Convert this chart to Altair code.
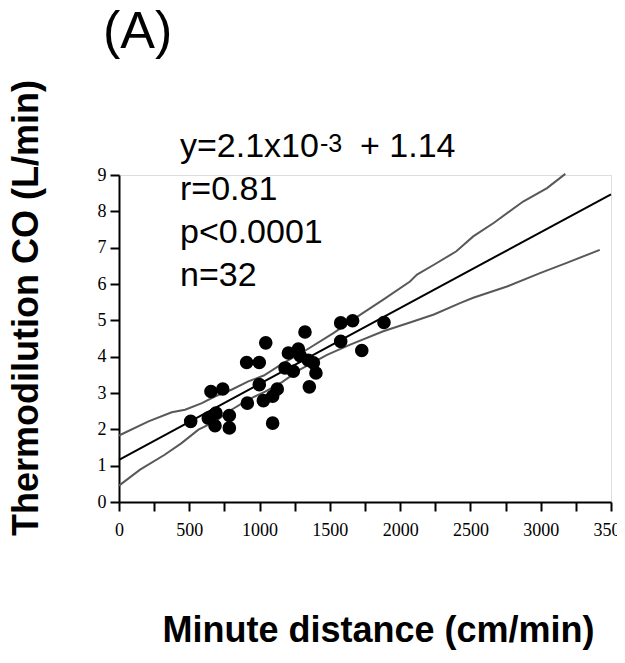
import altair as alt
import pandas as pd

# ---- data ----
distance = [510, 654, 738, 635, 690, 683, 785, 785, 913, 908, 998, 998, 1044, 1027,
            1093, 1126, 1093, 1205, 1181, 1240, 1276, 1288, 1347, 1323, 1383, 1354,
            1401, 1577, 1662, 1577, 1727, 1885]
co = [2.22, 3.04, 3.11, 2.31, 2.45, 2.10, 2.38, 2.04, 2.72, 3.84, 3.84, 3.23, 4.38, 2.79,
      2.91, 3.11, 2.17, 4.10, 3.69, 3.60, 4.21, 4.03, 3.90, 4.68, 3.83, 3.17,
      3.55, 4.93, 4.99, 4.42, 4.17, 4.94]

fit_x = [0, 3500]
fit_y = [1.16, 8.47]

upper_x = [0, 210, 375, 470, 590, 685, 800, 920, 1030, 1160, 1335, 1525, 1715, 1880,
           2070, 2120, 2240, 2400, 2520, 2665, 2875, 3045, 3175]
upper_y = [1.83, 2.22, 2.47, 2.54, 2.72, 2.91, 3.09, 3.32, 3.48, 3.80, 4.19, 4.65, 5.15,
           5.57, 6.07, 6.26, 6.53, 6.90, 7.31, 7.68, 8.27, 8.64, 9.03]
lower_x = [0, 150, 325, 445, 565, 685, 800, 920, 1040, 1160, 1290, 1480, 1645, 1880,
           2070, 2240, 2430, 2520, 2760, 2995, 3185, 3420]
lower_y = [0.45, 0.89, 1.30, 1.62, 1.99, 2.22, 2.54, 2.82, 3.04, 3.30, 3.65, 4.05, 4.33,
           4.70, 4.94, 5.16, 5.48, 5.62, 5.93, 6.30, 6.58, 6.94]

x_ticks = list(range(0, 3501, 250))
y_ticks = list(range(0, 10))

panel_label = "(A)"
eq_main = "y=2.1x10"
eq_sup = "-3"
eq_tail = "+ 1.14"
stats_lines = ["r=0.81", "p<0.0001", "n=32"]
x_title = "Minute distance (cm/min)"
y_title = "Thermodilution CO (L/min)"

W, H = 492, 327
SANS = "Liberation Sans"
SERIF = "Liberation Serif"

pts = pd.DataFrame({"x": distance, "y": co})
fit = pd.DataFrame({"x": fit_x, "y": fit_y})
bands = pd.concat([
    pd.DataFrame({"x": upper_x, "y": upper_y, "band": "upper"}),
    pd.DataFrame({"x": lower_x, "y": lower_y, "band": "lower"}),
])

xscale = alt.Scale(domain=[0, 3500], nice=False, zero=False)
yscale = alt.Scale(domain=[0, 9], nice=False)

xaxis = alt.Axis(values=x_ticks, format="d",
                 labelExpr="datum.value % 500 == 0 ? datum.label : ''",
                 labelFont=SERIF, labelFontSize=18, labelColor="black",
                 labelFlush=False, labelOverlap=False, labelPadding=10,
                 tickSize=9, tickWidth=2, tickColor="black",
                 domainColor="black", domainWidth=2, grid=False, title=None)
yaxis = alt.Axis(values=y_ticks, format="d",
                 labelFont=SERIF, labelFontSize=18, labelColor="black",
                 labelFlush=False, labelOverlap=False, labelPadding=4,
                 tickSize=9, tickWidth=2, tickColor="black",
                 domainColor="black", domainWidth=2, grid=False, title=None)

X = alt.X("x:Q", scale=xscale, axis=xaxis)
Y = alt.Y("y:Q", scale=yscale, axis=yaxis)

band_layer = alt.Chart(bands).mark_line(color="#585858", strokeWidth=2).encode(
    x=X, y=Y, detail="band:N", order="x:Q")
fit_layer = alt.Chart(fit).mark_line(color="black", strokeWidth=2).encode(x=X, y=Y)
pt_layer = alt.Chart(pts).mark_circle(color="black", opacity=1, size=185).encode(x=X, y=Y)

one = pd.DataFrame({"a": [0]})

def txt(s, x, y, size, weight="normal", angle=0, align="left", baseline="alphabetic"):
    return alt.Chart(one).mark_text(
        text=s, font=SANS, fontSize=size, fontWeight=weight, angle=angle,
        align=align, baseline=baseline, color="black"
    ).encode(x=alt.value(x), y=alt.value(y))

texts = [
    txt(panel_label, -16, -127, 52),
    txt(eq_main, 61, -18, 34),
    txt(eq_sup, 201, -23, 25),
    txt(eq_tail, 241, -18, 34),
]
for i, s in enumerate(stats_lines):
    texts.append(txt(s, 61, 25 + 43 * i, 34))
texts.append(txt(x_title, 259.5, 467, 36, weight="bold", align="center"))
texts.append(txt(y_title, -81.5, 133, 36, weight="bold", angle=270, align="center"))

chart = alt.layer(band_layer, fit_layer, pt_layer, *texts).properties(
    width=W, height=H,
    autosize=alt.AutoSizeParams(type="none"),
    padding={"left": 111, "top": 167, "right": 6, "bottom": 148},
).configure_view(stroke=None).configure(background="white")

chart.save("out.html", embed_options={"renderer": "svg", "actions": False})
